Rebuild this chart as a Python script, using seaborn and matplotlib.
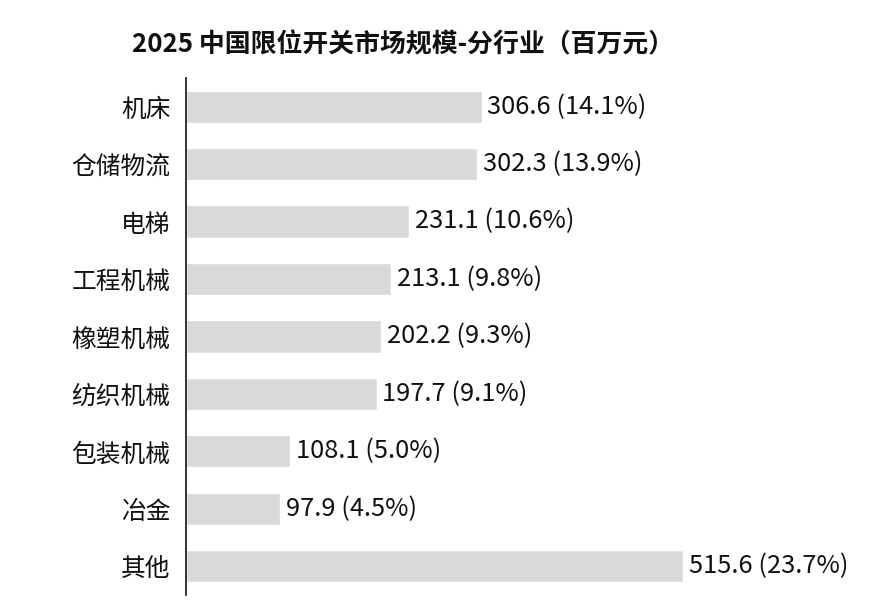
import matplotlib
matplotlib.use("Agg")
import matplotlib.pyplot as plt
import seaborn as sns
import pandas as pd

# data
industries = ["机床", "仓储物流", "电梯", "工程机械", "橡塑机械", "纺织机械", "包装机械", "冶金", "其他"]
market_size = [306.6, 302.3, 231.1, 213.1, 202.2, 197.7, 108.1, 97.9, 515.6]
share_pct = [14.1, 13.9, 10.6, 9.8, 9.3, 9.1, 5.0, 4.5, 23.7]

sns.set_theme(style="white")
plt.rcParams['font.family'] = ['Noto Sans CJK SC', 'DejaVu Sans']

df = pd.DataFrame({"industry": industries, "size": market_size, "share": share_pct})

fig = plt.figure(figsize=(8.93, 6.09), dpi=100)
ax = fig.add_axes([0.208, 0.023, 0.792, 0.849])

sns.barplot(data=df, x="size", y="industry", orient="h", color="#d9d9d9",
            saturation=1, width=0.56, ax=ax)

for i, (v, s) in enumerate(zip(market_size, share_pct)):
    ax.text(v + 6, i, f"{v:.1f} ({s:.1f}%)", va="center", ha="left",
            fontsize=18.3, color="#111111")

ax.set_xlim(0, 733)
ax.set_ylim(8.5, -0.5)
ax.set_xlabel("")
ax.set_ylabel("")
ax.set_xticks([])
ax.tick_params(axis="y", length=0, labelsize=17.8, pad=11, colors="#111111")
for sp in ["top", "right", "bottom"]:
    ax.spines[sp].set_visible(False)
ax.spines["left"].set_color("#111111")
ax.spines["left"].set_linewidth(1.2)

fig.text(0.451, 0.926, "2025 中国限位开关市场规模-分行业（百万元）", ha="center", va="center",
         fontsize=18.6, fontweight="bold", color="#111111")

fig.savefig("out.png", dpi=100)
